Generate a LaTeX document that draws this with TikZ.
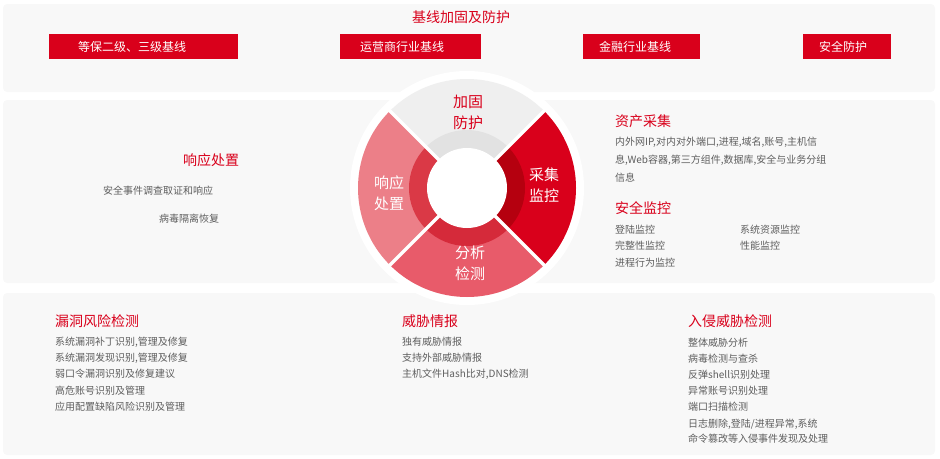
\documentclass[tikz,border=0pt]{standalone}
\usepackage{fontspec}
\setmainfont{Noto Sans CJK SC}
\definecolor{hred}{HTML}{D9001B}
\definecolor{panelgray}{HTML}{F8F8F8}
\definecolor{txtgray}{HTML}{5E5E5E}
\definecolor{topout}{HTML}{EFEFEF}
\definecolor{topin}{HTML}{E2E2E2}
\definecolor{rightin}{HTML}{B5000F}
\definecolor{botout}{HTML}{E85B6A}
\definecolor{botin}{HTML}{D52A3A}
\definecolor{leftout}{HTML}{EC7F88}
\definecolor{leftin}{HTML}{DA3946}
\tikzset{
  panel/.style={fill=panelgray, rounded corners=4pt},
  btntext/.style={anchor=west, inner sep=0pt, text=white, font=\fontsize{12}{12}\selectfont},
  heading/.style={anchor=west, inner sep=0pt, text=hred, font=\fontsize{14}{14}\selectfont},
  item/.style={anchor=west, inner sep=0pt, text=txtgray, font=\fontsize{10}{10}\selectfont},
  segtext/.style={align=center, inner sep=0pt, font=\fontsize{15}{21}\selectfont}
}
\begin{document}
\begin{tikzpicture}[x=1pt,y=-1pt]
		\useasboundingbox (0,0) rectangle (940,458);
		% panels
		\fill[panel] (3,4) rectangle (935,92);
		\fill[panel] (3,100) rectangle (935,283);
		\fill[panel] (3,293) rectangle (935,455);
		% top panel
		\node[heading, anchor=center] (base) at (461,17) {基线加固及防护};
		\fill[hred] (49,34) rectangle (238,59);
		\fill[hred] (340,34) rectangle (481,59);
		\fill[hred] (583,34) rectangle (700,59);
		\fill[hred] (803,34) rectangle (891,59);
		\node[btntext] (dengbao) at (78,46.5) {等保二级、三级基线};
		\node[btntext] (yunying) at (360,46.5) {运营商行业基线};
		\node[btntext] (jinrong) at (599,46.5) {金融行业基线};
		\node[btntext] (anquan) at (819,46.5) {安全防护};
		% ring
		\coordinate (c) at (467,188);
		\fill[white] (c) circle (117pt);
		\fill[topout] (c) -- ++(45:109pt) arc[start angle=45, end angle=135, radius=109pt] -- cycle;
		\fill[hred] (c) -- ++(-45:109pt) arc[start angle=-45, end angle=45, radius=109pt] -- cycle;
		\fill[botout] (c) -- ++(-135:109pt) arc[start angle=-135, end angle=-45, radius=109pt] -- cycle;
		\fill[leftout] (c) -- ++(135:109pt) arc[start angle=135, end angle=225, radius=109pt] -- cycle;
		\fill[topin] (c) -- ++(45:58pt) arc[start angle=45, end angle=135, radius=58pt] -- cycle;
		\fill[rightin] (c) -- ++(-45:58pt) arc[start angle=-45, end angle=45, radius=58pt] -- cycle;
		\fill[botin] (c) -- ++(-135:58pt) arc[start angle=-135, end angle=-45, radius=58pt] -- cycle;
		\fill[leftin] (c) -- ++(135:58pt) arc[start angle=135, end angle=225, radius=58pt] -- cycle;
		\draw[white, line width=3.5pt] (c) -- ++(45:112pt) (c) -- ++(135:112pt) (c) -- ++(-45:112pt) (c) -- ++(-135:112pt);
		\fill[white] (c) circle (40pt);
		\node[segtext, text=hred] (jiagu) at (468,112) {加固\\防护};
		\node[segtext, text=white] (caiji) at (544,185) {采集\\监控};
		\node[segtext, text=white] (fenxi) at (470,263) {分析\\检测};
		\node[segtext, text=white] (xiangying) at (389,193) {响应\\处置};
		% middle panel
		\node[heading] (xyhead) at (183,160) {响应处置};
		\node[item] (xy1) at (103,191) {安全事件调查取证和响应};
		\node[item] (xy2) at (159,219) {病毒隔离恢复};
		\node[heading] (zchead) at (615,121) {资产采集};
		\node[item] (zc1) at (615,142) {内外网IP,对内对外端口,进程,域名,账号,主机信};
		\node[item] (zc2) at (615,160) {息,Web容器,第三方组件,数据库,安全与业务分组};
		\node[item] (zc3) at (615,178) {信息};
		\node[heading] (jkhead) at (615,208) {安全监控};
		\node[item] (jk1) at (615,230) {登陆监控};
		\node[item] (jk2) at (740,230) {系统资源监控};
		\node[item] (jk3) at (615,246) {完整性监控};
		\node[item] (jk4) at (740,246) {性能监控};
		\node[item] (jk5) at (615,263) {进程行为监控};
		% bottom panel
		\node[heading] (ldhead) at (55,321) {漏洞风险检测};
		\node[item] (ld1) at (55,342) {系统漏洞补丁识别,管理及修复};
		\node[item] (ld2) at (55,358) {系统漏洞发现识别,管理及修复};
		\node[item] (ld3) at (55,374) {弱口令漏洞识别及修复建议};
		\node[item] (ld4) at (55,391) {高危账号识别及管理};
		\node[item] (ld5) at (55,407) {应用配置缺陷风险识别及管理};
		\node[heading] (qbhead) at (402,321) {威胁情报};
		\node[item] (qb1) at (402,342) {独有威胁情报};
		\node[item] (qb2) at (402,358) {支持外部威胁情报};
		\node[item] (qb3) at (402,374) {主机文件Hash比对,DNS检测};
		\node[heading] (rqhead) at (688,321) {入侵威胁检测};
		\node[item] (rq1) at (688,343) {整体威胁分析};
		\node[item] (rq2) at (688,359) {病毒检测与查杀};
		\node[item] (rq3) at (688,375) {反弹shell识别处理};
		\node[item] (rq4) at (688,391) {异常账号识别处理};
		\node[item] (rq5) at (688,407) {端口扫描检测};
		\node[item] (rq6) at (688,424) {日志删除,登陆/进程异常,系统};
		\node[item] (rq7) at (688,439) {命令篡改等入侵事件发现及处理};
\end{tikzpicture}
\end{document}
